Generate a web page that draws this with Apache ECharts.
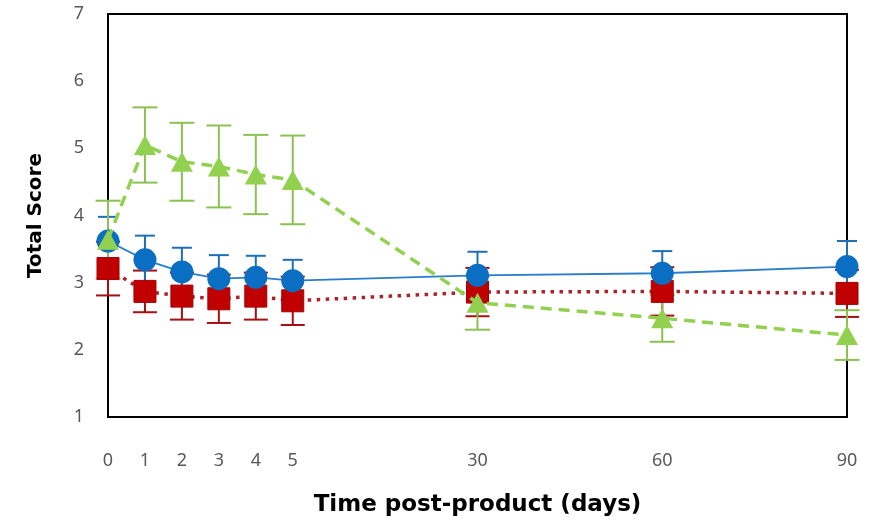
<!DOCTYPE html>
<html>
<head>
<meta charset="utf-8">
<script src="https://cdn.jsdelivr.net/npm/echarts@6/dist/echarts.min.js"></script>
<style>
html,body{margin:0;padding:0;background:#fff;}
#chart{width:881px;height:522px;}
</style>
</head>
<body>
<div id="chart"></div>
<script>
// Category slots of the (uneven) time axis, as in the original chart
const categories = ['0','1','2','3','4','5','','','','','30','','','','','60','','','','','90'];
const days = ['0','1','2','3','4','5','30','60','90'];

const blueMean  = [3.62, 3.34, 3.16, 3.06, 3.08, 3.03, 3.11, 3.14, 3.24];
const blueErr   = [0.36, 0.36, 0.36, 0.35, 0.32, 0.31, 0.35, 0.33, 0.38];
const redMean   = [3.21, 2.87, 2.80, 2.76, 2.80, 2.73, 2.86, 2.87, 2.84];
const redErr    = [0.40, 0.31, 0.35, 0.36, 0.35, 0.36, 0.36, 0.36, 0.35];
const greenMean = [3.64, 5.05, 4.80, 4.73, 4.61, 4.53, 2.70, 2.47, 2.22];
const greenErr  = [0.58, 0.56, 0.58, 0.61, 0.59, 0.66, 0.40, 0.35, 0.37];

const yTicks = [1, 2, 3, 4, 5, 6, 7];

function lineData(mean) {
  const arr = categories.map(() => null);
  days.forEach((d, i) => { arr[categories.indexOf(d)] = mean[i]; });
  return arr;
}
function errData(mean, err) {
  return days.map((d, i) => [categories.indexOf(d), mean[i] + err[i], mean[i] - err[i]]);
}
function errSeries(mean, err, color, capW) {
  return {
    type: 'custom',
    z: 1,
    silent: true,
    data: errData(mean, err),
    encode: { x: 0, y: [1, 2] },
    renderItem: function (params, api) {
      const idx = api.value(0);
      const top = api.coord([idx, api.value(1)]);
      const bot = api.coord([idx, api.value(2)]);
      const st = { stroke: color, lineWidth: 2 };
      const h = capW / 2;
      return {
        type: 'group',
        children: [
          { type: 'line', shape: { x1: top[0], y1: top[1], x2: bot[0], y2: bot[1] }, style: st },
          { type: 'line', shape: { x1: top[0] - h, y1: top[1], x2: top[0] + h, y2: top[1] }, style: st },
          { type: 'line', shape: { x1: bot[0] - h, y1: bot[1], x2: bot[0] + h, y2: bot[1] }, style: st }
        ]
      };
    }
  };
}

const chart = echarts.init(document.getElementById('chart'), null, { renderer: 'canvas' });
const labelFont = { color: '#595959', fontFamily: 'Noto Sans', fontSize: 18 };

chart.setOption({
  animation: false,
  backgroundColor: '#ffffff',
  grid: { left: 108, right: 34, top: 14, bottom: 105, containLabel: false, outerBoundsMode: 'none', show: true, borderColor: '#000', borderWidth: 2, backgroundColor: 'transparent' },
  xAxis: {
    type: 'category',
    data: categories,
    boundaryGap: false,
    axisLine: { show: true, lineStyle: { color: '#000', width: 2 } },
    axisTick: { show: false },
    axisLabel: Object.assign({ interval: 0, margin: 35 }, labelFont),
    splitLine: { show: false },
    name: 'Time post-product (days)',
    nameLocation: 'middle',
    nameGap: 77,
    nameTextStyle: { fontFamily: 'DejaVu Sans', fontWeight: 'bold', fontSize: 23, color: '#000' }
  },
  yAxis: {
    type: 'value',
    min: yTicks[0],
    max: yTicks[yTicks.length - 1],
    interval: 1,
    axisLine: { show: true, lineStyle: { color: '#000', width: 2 } },
    axisTick: { show: false },
    splitLine: { show: false },
    axisLabel: Object.assign({ margin: 24 }, labelFont),
    name: 'Total Score',
    nameLocation: 'middle',
    nameGap: 62,
    nameTextStyle: { fontFamily: 'DejaVu Sans', fontWeight: 'bold', fontSize: 20, color: '#000' }
  },
  series: [
    errSeries(redMean, redErr, '#a50f15', 24),
    errSeries(blueMean, blueErr, '#1f6fb8', 20),
    errSeries(greenMean, greenErr, '#8cc152', 25),
    {
      type: 'line', name: 'red', z: 2,
      data: lineData(redMean), connectNulls: true,
      symbol: 'rect', symbolSize: 22,
      itemStyle: { color: '#c00000', borderColor: '#a50000', borderWidth: 1 },
      lineStyle: { color: '#a8232a', width: 3.5, type: [3.5, 5.5] }
    },
    {
      type: 'line', name: 'blue', z: 3,
      data: lineData(blueMean), connectNulls: true,
      symbol: 'circle', symbolSize: 23,
      itemStyle: { color: '#0a6fc2' },
      lineStyle: { color: '#2a7dcc', width: 1.8, type: 'solid' }
    },
    {
      type: 'line', name: 'green', z: 4,
      data: lineData(greenMean), connectNulls: true,
      symbol: 'triangle', symbolSize: [22, 20],
      itemStyle: { color: '#92d050' },
      lineStyle: { color: '#92d050', width: 3.5, type: [11, 7] }
    }
  ]
});
</script>
</body>
</html>
